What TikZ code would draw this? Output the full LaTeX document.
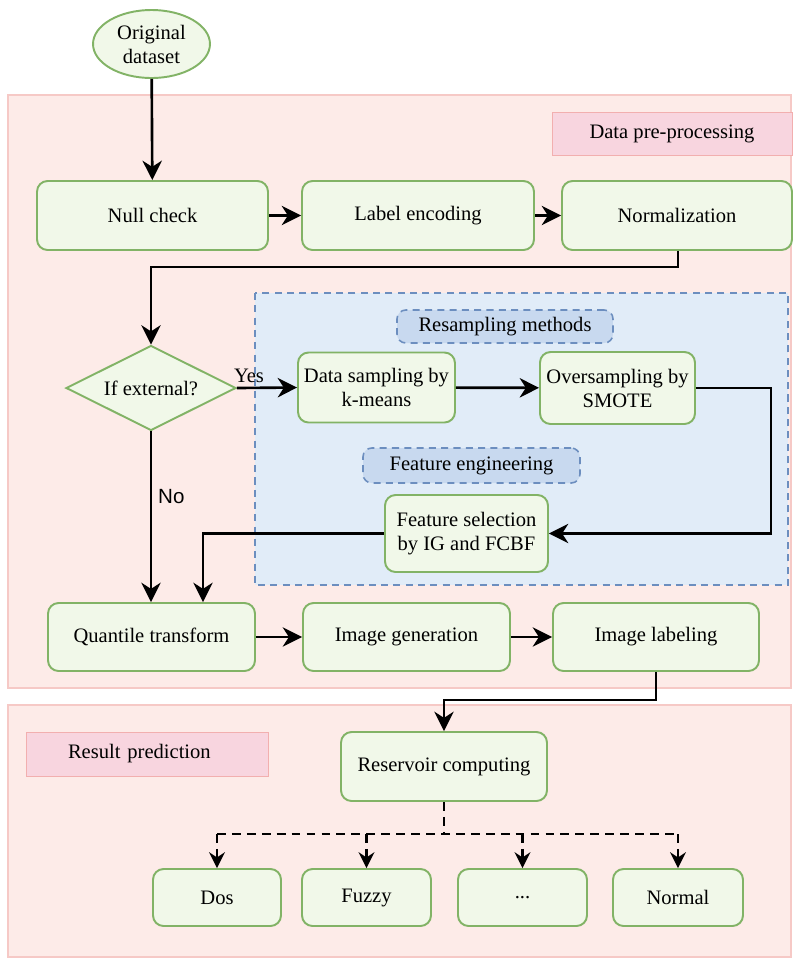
\documentclass[tikz,border=0pt]{standalone}
\usepackage{fontspec}
\setmainfont{Liberation Serif}
\newfontfamily\nofont{Liberation Sans}
\usepackage{xcolor}
\usepackage{tikz}
\usetikzlibrary{shapes.geometric, arrows.meta}

\definecolor{boxfill}{HTML}{F1F8E9}
\definecolor{boxline}{HTML}{82B366}
\definecolor{pinkbg}{HTML}{FDEBE8}
\definecolor{pinkline}{HTML}{F6C9C6}
\definecolor{tagfill}{HTML}{F8D5DF}
\definecolor{tagline}{HTML}{F2AFAF}
\definecolor{bluebg}{HTML}{E1ECF8}
\definecolor{blueline}{HTML}{6C8EBF}
\definecolor{bluetag}{HTML}{C8D9EF}

\begin{document}
\begin{tikzpicture}[x=0.02cm, y=-0.02cm,
  font=\fontsize{11.7}{13.7}\selectfont,
  stepbox/.style={draw=boxline, fill=boxfill, line width=1.1pt, rounded corners=6pt,
    align=center, inner sep=2pt},
  arr/.style={line width=1.5pt, -{Stealth[length=11pt, width=11pt, inset=3.5pt]}},
  dasharr/.style={line width=1.5pt, dash pattern=on 5pt off 3.5pt,
    -{Stealth[length=9pt, width=9pt, inset=3pt]}}]

\useasboundingbox (0,0) rectangle (793,958);

% regions
\filldraw[fill=pinkbg, draw=pinkline, line width=1pt] (8,95) rectangle (791,688);
\filldraw[fill=pinkbg, draw=pinkline, line width=1pt] (8,705) rectangle (791,957);
\filldraw[fill=bluebg, draw=blueline, line width=0.9pt, dash pattern=on 4pt off 3pt] (255,293) rectangle (788,585);

\node[fill=tagfill, draw=tagline, minimum width=4.8cm, minimum height=0.86cm] (dpp) at (672,133.5) {Data pre-processing};
\node[fill=tagfill, draw=tagline, minimum height=0.88cm, inner xsep=0.84cm, text width=3.16cm,
  align=left] (rpred) at (147,754) {Result prediction};
\node[fill=bluetag, draw=blueline, line width=0.9pt, dash pattern=on 4pt off 3pt, rounded corners=5pt,
  minimum width=4.32cm, minimum height=0.66cm] (resamp) at (505,326.5) {Resampling methods};
\node[fill=bluetag, draw=blueline, line width=0.9pt, dash pattern=on 4pt off 3pt, rounded corners=5pt,
  minimum width=4.34cm, minimum height=0.7cm] (feng) at (471.5,465.5) {Feature engineering};

% flow nodes
\node[ellipse, draw=boxline, fill=boxfill, line width=1.1pt, align=center, inner sep=0pt,
  minimum width=2.34cm, minimum height=1.36cm] (orig) at (151.5,44) {Original\\dataset};

\node[stepbox, minimum width=4.62cm, minimum height=1.38cm] (null) at (152.5,215.5) {Null check};
\node[stepbox, minimum width=4.64cm, minimum height=1.38cm] (label) at (418,215.5) {Label encoding};
\node[stepbox, minimum width=4.6cm, minimum height=1.38cm] (norm) at (677,215.5) {Normalization};

\node[diamond, draw=boxline, fill=boxfill, line width=1.1pt, aspect=2, inner sep=0pt,
  minimum width=3.4cm, minimum height=1.7cm] (ext) at (151,388) {If external?};

\node[stepbox, minimum width=3.14cm, minimum height=1.4cm] (kmeans) at (376.5,387.5) {Data sampling by\\k-means};
\node[stepbox, minimum width=3.1cm, minimum height=1.44cm] (smote) at (617.5,388) {Oversampling by\\SMOTE};
\node[stepbox, minimum width=3.26cm, minimum height=1.54cm] (fsel) at (466.5,533.5) {Feature selection\\by IG and FCBF};

\node[stepbox, minimum width=4.14cm, minimum height=1.36cm] (quant) at (151.5,637) {Quantile transform};
\node[stepbox, minimum width=4.14cm, minimum height=1.36cm] (imggen) at (406.5,637) {Image generation};
\node[stepbox, minimum width=4.12cm, minimum height=1.36cm] (imglab) at (656,637) {Image labeling};

\node[stepbox, minimum width=4.12cm, minimum height=1.38cm] (res) at (444,766.5) {Reservoir computing};

\node[stepbox, minimum width=2.56cm, minimum height=1.14cm] (dos) at (217,897.5) {Dos};
\node[stepbox, minimum width=2.58cm, minimum height=1.14cm] (fuzzy) at (366.5,897.5) {Fuzzy};
\node[stepbox, minimum width=2.58cm, minimum height=1.14cm] (dots) at (522.5,897.5) {...};
\node[stepbox, minimum width=2.6cm, minimum height=1.14cm] (normal) at (678,897.5) {Normal};

% bend points
\coordinate (n1) at (678,267);
\coordinate (n2) at (151,267);
\coordinate (s1) at (771,388);
\coordinate (s2) at (771,533.5);
\coordinate (f1) at (203,533.5);
\coordinate (l1) at (656,700);
\coordinate (l2) at (444,700);
\coordinate (r1) at (444,834);

% connectors
\draw[arr] (orig) -- (null);
\draw[arr] (null) -- (label);
\draw[arr] (label) -- (norm);
\draw[arr] (norm.south -| n1) -- (n1) -- (n2) -- (ext.north);

\draw[arr] (ext.east) -- node[pos=0.2, above=-1pt] {Yes} (kmeans.west);
\draw[arr] (kmeans) -- (smote);
\draw[arr] (smote.east) -- (s1) -- (s2) -- (fsel.east);
\draw[arr] (fsel.west) -- (f1) -- (f1 |- quant.north);
\draw[arr] (ext.south) -- node[pos=0.38, right=0pt, font=\nofont\fontsize{11.7}{13.7}\selectfont] {No} (ext.south |- quant.north);

\draw[arr] (quant) -- (imggen);
\draw[arr] (imggen) -- (imglab);
\draw[arr] (imglab.south -| l1) -- (l1) -- (l2) -- (res.north);

\draw[line width=1.5pt, dash pattern=on 5pt off 3.5pt] (res.south) -- (r1);
\draw[line width=1.5pt, dash pattern=on 5pt off 3.5pt] (r1 -| dos) -- (r1 -| normal);
\foreach \b in {dos, fuzzy, dots, normal}
  \draw[dasharr] (r1 -| \b) -- (\b.north);

\end{tikzpicture}
\end{document}
